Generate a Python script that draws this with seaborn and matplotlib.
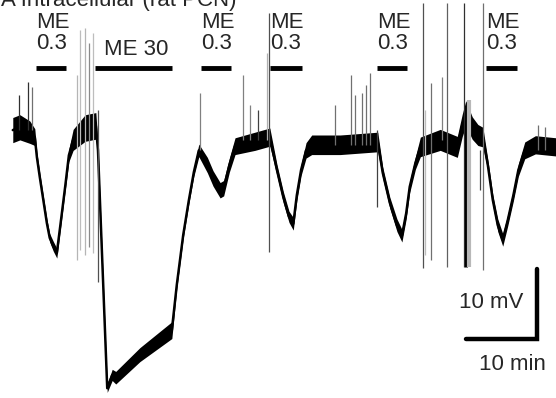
import numpy as np
import pandas as pd
import seaborn as sns
from matplotlib import pyplot as plt

# membrane potential trace, breakpoints
# time in min, potential in mV relative to resting level, noise = half-width of the noisy band
trace_t = [1.8, 2.8, 4.2, 4.9, 5.2, 5.6, 6.1, 6.6, 7.0, 7.5, 8.0, 8.5, 9.2, 9.7,
           10.3, 12.0, 13.5, 13.8, 15.1, 15.8, 16.3, 19.7, 24.2, 24.9, 25.8, 26.6,
           27.3, 28.0, 29.2, 30.0, 31.0, 31.5, 32.3, 33.1, 35.9, 38.0, 39.0, 39.9,
           40.7, 41.3, 41.8, 42.4, 43.1, 43.9, 47.9, 53.2, 53.9, 54.9, 55.9, 56.6,
           57.2, 57.7, 58.5, 59.2, 62.0, 64.4, 65.1, 65.6, 66.5, 67.3, 68.0, 68.7,
           69.4, 70.1, 70.8, 71.5, 72.3, 73.0, 73.9, 75.4, 78.3]
trace_v = [0.0, 0.4, -0.3, -1.0, -3.9, -6.7, -10.0, -13.3, -15.4, -16.6, -17.6, -13.6, -7.9, -3.6,
           -1.4, 0.3, 0.6, -2.9, -36.9, -35.0, -35.4, -32.1, -28.6, -22.1, -15.0, -10.0,
           -6.0, -2.9, -5.0, -6.9, -8.6, -8.3, -5.0, -2.3, -1.6, -1.0, -5.7, -9.6,
           -12.4, -13.4, -9.3, -5.7, -2.9, -2.1, -2.1, -1.7, -6.1, -10.4, -13.6, -15.1,
           -11.9, -8.1, -4.7, -2.4, -1.4, -2.4, 0.7, 2.4, 0.3, -0.7, -1.0, -5.0,
           -10.0, -13.6, -15.7, -12.9, -9.3, -5.7, -2.9, -2.1, -2.4]
trace_noise = [1.8, 1.8, 1.6, 1.2, 0.7, 0.6, 0.6, 0.6, 0.6, 0.7, 0.7, 0.6, 0.6, 0.9,
               1.5, 1.9, 1.9, 0.8, 0.6, 0.8, 0.9, 1.0, 1.2, 0.5, 0.5, 0.5,
               0.6, 0.9, 1.1, 1.1, 1.1, 1.1, 1.0, 1.2, 1.3, 1.3, 0.8, 0.8,
               0.8, 0.9, 0.8, 0.8, 1.1, 1.4, 1.4, 1.4, 0.8, 0.8, 0.9, 0.9,
               0.8, 0.8, 0.9, 1.4, 1.5, 1.5, 1.6, 1.8, 1.6, 1.5, 1.4, 0.8,
               0.8, 0.9, 0.9, 0.8, 0.8, 0.9, 1.2, 1.3, 1.3]

# artefact spikes: time, top, bottom (mV), shade
spike_t = [10.8, 11.3, 12.0, 12.5, 13.1, 13.8, 2.7, 3.9, 4.5, 28.2, 34.2, 35.2,
           36.3, 37.6, 37.9, 47.2, 49.4, 50.0, 51.0, 51.5, 52.1, 53.1, 59.6,
           59.9, 60.7, 62.3, 63.0, 65.4, 67.6, 68.0, 75.8, 76.8]
spike_top = [7.9, 14.3, 14.6, 12.4, 13.9, 2.9, 5.0, 6.9, 6.1, 5.3, 7.9, 3.6,
             2.9, 11.0, 16.7, 3.6, 7.9, 5.0, 5.3, 6.4, 8.1, 0.0, 18.1,
             2.9, 6.7, 7.6, 18.1, 18.1, -2.9, 18.1, 0.7, 0.4]
spike_bottom = [-18.6, -17.1, -17.9, -16.7, -17.6, -21.7, 0.0, 0.0, 0.0, -2.9, -1.4, -1.4,
                -1.4, -1.4, -17.4, -2.1, -2.1, -2.1, -2.1, -2.1, -2.1, -11.0, -19.7,
                -17.9, -18.6, -1.4, -19.6, -19.6, -8.6, -20.0, -2.9, -2.9]
spike_shade = ['#b5b5b5', '#bdbdbd', '#b5b5b5', '#8a8a8a', '#bdbdbd', '#505050',
               '#303030', '#303030', '#707070', '#808080', '#808080', '#808080',
               '#404040', '#b0b0b0', '#505050', '#707070', '#707070', '#707070',
               '#707070', '#707070', '#707070', '#404040', '#505050',
               '#bdbdbd', '#707070', '#808080', '#606060', '#303030', '#404040',
               '#707070', '#707070', '#707070']

# thick artefacts around 65-66 min
burst_t = [65.6, 66.1]
burst_top = [1.4, 4.3]
burst_bottom = [-19.6, -19.6]

# drug applications (min)
stim_on = [5.1, 13.4, 28.3, 38.0, 53.1, 68.5]
stim_off = [9.3, 24.2, 32.5, 42.5, 57.3, 72.8]
stim_label = ['ME\n0.3', 'ME 30', 'ME\n0.3', 'ME\n0.3', 'ME\n0.3', 'ME\n0.3']

sns.set_style('white')
plt.rcParams['font.family'] = ['Liberation Sans', 'DejaVu Sans']

fig = plt.figure(figsize = (5.56, 3.98), dpi = 100)
ax = fig.add_axes([0, 0, 1, 1])

df = pd.DataFrame({'t': trace_t, 'v': trace_v, 'noise': trace_noise})
ax.fill_between(df['t'], df['v'] - df['noise'], df['v'] + df['noise'],
                color = 'black', lw = 0)
sns.lineplot(data = df, x = 't', y = 'v', color = 'black', lw = 1.8,
             sort = False, ax = ax)

ax.vlines(spike_t, spike_bottom, spike_top, colors = spike_shade, lw = 0.9)
ax.vlines(burst_t[0], burst_bottom[0], burst_top[0], colors = 'black', lw = 2.2)
ax.vlines(burst_t[1], burst_bottom[1], burst_top[1], colors = '#b8b8b8', lw = 3)

for on, off, lab in zip(stim_on, stim_off, stim_label):
    ax.plot([on, off], [8.9, 8.9], color = 'black', lw = 3.5, solid_capstyle = 'butt')
    if '\n' in lab:
        ax.text(on, 11.6, lab, fontsize = 16, ha = 'left', va = 'baseline',
                linespacing = 1.0)
    else:
        ax.text((on + off) / 2 + 0.4, 10.7, lab, fontsize = 16, ha = 'center',
                va = 'baseline')

# scale bar: 10 mV / 10 min
ax.plot([65.6, 75.6, 75.6], [-29.9, -29.9, -19.9], color = 'black', lw = 3.2,
        solid_joinstyle = 'miter')
ax.text(73.7, -25.4, '10 mV', fontsize = 16, ha = 'right', va = 'baseline')
ax.text(72.1, -34.3, '10 min', fontsize = 16, ha = 'center', va = 'baseline')

# panel title, cut by the top edge as in the original figure
ax.text(0.2, 17.8, 'A Intracellular (rat PCN)', fontsize = 16, ha = 'left', va = 'baseline')

ax.set_xlim(0, 78.3)
ax.set_ylim(-38.3, 18.6)
ax.axis('off')

plt.savefig('out.png', dpi = 100)
